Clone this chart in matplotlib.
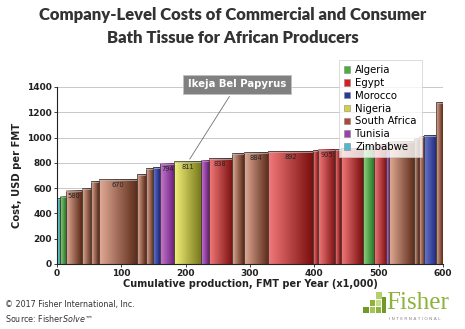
import numpy as np
import matplotlib
matplotlib.use("Agg")
import matplotlib.pyplot as plt
from matplotlib.colors import LinearSegmentedColormap
from matplotlib.patches import Rectangle, Patch

# Producers sorted by cost; width = production, FMT/yr (x1,000)
countries = ["Zimbabwe", "Algeria", "South Africa", "South Africa", "South Africa",
             "South Africa", "South Africa", "South Africa", "Morocco", "Tunisia",
             "Nigeria", "Tunisia", "Egypt", "South Africa", "South Africa",
             "Egypt", "Egypt", "Egypt", "Egypt", "Egypt", "Algeria", "Egypt",
             "Tunisia", "South Africa", "South Africa", "South Africa", "Morocco",
             "South Africa"]
capacity = [5, 9, 24.5, 14, 12.4, 60, 13, 12, 10.4, 22.3, 41.6, 11.4, 36.4, 18, 38,
            69.5, 7.8, 27.5, 9, 34, 16.5, 19.3, 5, 39, 6.7, 7.8, 19.3, 10.6]
cost = [520, 530, 580, 600, 655, 670, 710, 757, 765, 794, 811, 815, 838, 875, 884,
        892, 900, 905, 907, 915, 930, 945, 955, 965, 990, 1005, 1020, 1280]
labelled = [580, 670, 794, 811, 838, 884, 892, 905]

legend_order = ["Algeria", "Egypt", "Morocco", "Nigeria", "South Africa",
                "Tunisia", "Zimbabwe"]
# (light, dark) ends of each bar's left-to-right shading
shades = {
    "Algeria": ("#8fd47e", "#2a7a2a"),
    "Egypt": ("#f47a7a", "#7a0e0e"),
    "Morocco": ("#6a78d0", "#1e2878"),
    "Nigeria": ("#f4f27a", "#7a7a1c"),
    "South Africa": ("#e2ab96", "#5a2a18"),
    "Tunisia": ("#c87ad2", "#6a1e7a"),
    "Zimbabwe": ("#86dede", "#2a8a8a"),
}
legend_colors = {
    "Algeria": "#4caf3c", "Egypt": "#d42020", "Morocco": "#2a3a9a",
    "Nigeria": "#d4d040", "South Africa": "#b04838", "Tunisia": "#9a40a8",
    "Zimbabwe": "#50b8d0",
}

fig = plt.figure(figsize=(4.65, 3.29), dpi=100)
ax = fig.add_axes([0.1226, 0.1976, 0.8301, 0.538])

grad = np.linspace(0, 1, 64).reshape(1, -1)
left = 0.0
for name, w, c in zip(countries, capacity, cost):
    cmap = LinearSegmentedColormap.from_list(name, shades[name])
    ax.imshow(grad, cmap=cmap, extent=(left, left + w, 0, c), aspect="auto",
              interpolation="bilinear", zorder=2)
    ax.add_patch(Rectangle((left, 0), w, c, fill=False, ec="#3a3a3a", lw=0.5, zorder=3))
    ax.plot([left + 0.6, left + w - 0.6], [c - 4, c - 4], color="#b8b8b8", lw=0.5, zorder=3)
    if c in labelled:
        ax.text(left + w / 2, c - 22, f"{c}", ha="center", va="top",
                fontsize=4.8, color="#222222", zorder=4)
    left += w

ax.set_xlim(0, 600)
ax.set_ylim(0, 1400)
ax.set_xticks([0, 100, 200, 300, 400, 500, 600])
ax.set_yticks(range(0, 1401, 200))
ax.yaxis.grid(True, color="#c8c8c8", lw=0.7, zorder=0)
ax.set_axisbelow(True)
for s in ["top", "right"]:
    ax.spines[s].set_visible(False)
for s in ["left", "bottom"]:
    ax.spines[s].set_color("#222222")
    ax.spines[s].set_linewidth(0.8)
    ax.spines[s].set_zorder(5)
ax.tick_params(labelsize=6.5, length=2, width=0.6, colors="#222222", pad=1.5)
for t in ax.get_xticklabels() + ax.get_yticklabels():
    t.set_fontweight("bold")
ax.set_xlabel("Cumulative production, FMT per Year (x1,000)", fontsize=7,
              fontweight="bold", labelpad=1, color="#222222")
ax.set_ylabel("Cost, USD per FMT", fontsize=7.2, fontweight="bold", labelpad=4,
              color="#222222")

ax.annotate("Ikeja Bel Papyrus", xy=(204, 811), xytext=(280, 1422),
            ha="center", va="center", fontsize=7.3, fontweight="bold", color="white",
            bbox=dict(boxstyle="square,pad=0.45", fc="#808080", ec="#c0c0c0", lw=0.6),
            arrowprops=dict(arrowstyle="-", color="#707070", lw=0.6),
            annotation_clip=False, zorder=6)

handles = [Patch(fc=legend_colors[n], ec="#888888", lw=0.4) for n in legend_order]
leg = fig.legend(handles, legend_order, loc="upper left",
                 bbox_to_anchor=(339 / 465, 1 - 60 / 329), fontsize=7.3,
                 frameon=True, fancybox=False, edgecolor="#cccccc",
                 handlelength=0.6, handleheight=0.6, handletextpad=0.5,
                 labelspacing=0.28, borderpad=0.5, borderaxespad=0)
leg.get_frame().set_linewidth(0.6)
leg.set_zorder(10)

fig.text(0.5, 1 - 15 / 329, "Company-Level Costs of Commercial and Consumer",
         ha="center", va="center", fontsize=12, fontweight="heavy",
         family="Lato", color="#333333")
fig.text(0.5, 1 - 38 / 329, "Bath Tissue for African Producers",
         ha="center", va="center", fontsize=12, fontweight="heavy",
         family="Lato", color="#333333")

fig.text(5 / 465, 1 - 304 / 329, "\u00a9 2017 Fisher International, Inc.",
         fontsize=5.8, va="center", color="#333333")
fig.text(5 / 465, 1 - 318 / 329, "Source: Fisher$\\it{Solve}$\u2122",
         fontsize=5.8, va="center", color="#333333")

# company logo
fig.text(386 / 465, 1 - 303 / 329, "Fisher", fontsize=18, family="Liberation Serif",
         color="#8db33a", va="center", ha="left")
fig.text(389 / 465, 1 - 319 / 329, "I N T E R N A T I O N A L", fontsize=3.2,
         color="#888888", va="center", ha="left")
for (x, y, w, h, col) in [(376, 292, 6, 7, "#b5d06a"), (370, 300, 5, 6, "#8db33a"),
                          (376, 300, 5, 6, "#c8dc8a"), (363, 307, 6, 6, "#6f9a2a"),
                          (370, 307, 5, 6, "#a5c657"), (376, 307, 5, 6, "#8db33a"),
                          (382, 297, 4, 16, "#6f9a2a")]:
    fig.patches.append(Rectangle((x / 465, 1 - (y + h) / 329), w / 465, h / 329,
                                 transform=fig.transFigure, fc=col, ec="none"))

fig.savefig("out.png", dpi=100)
